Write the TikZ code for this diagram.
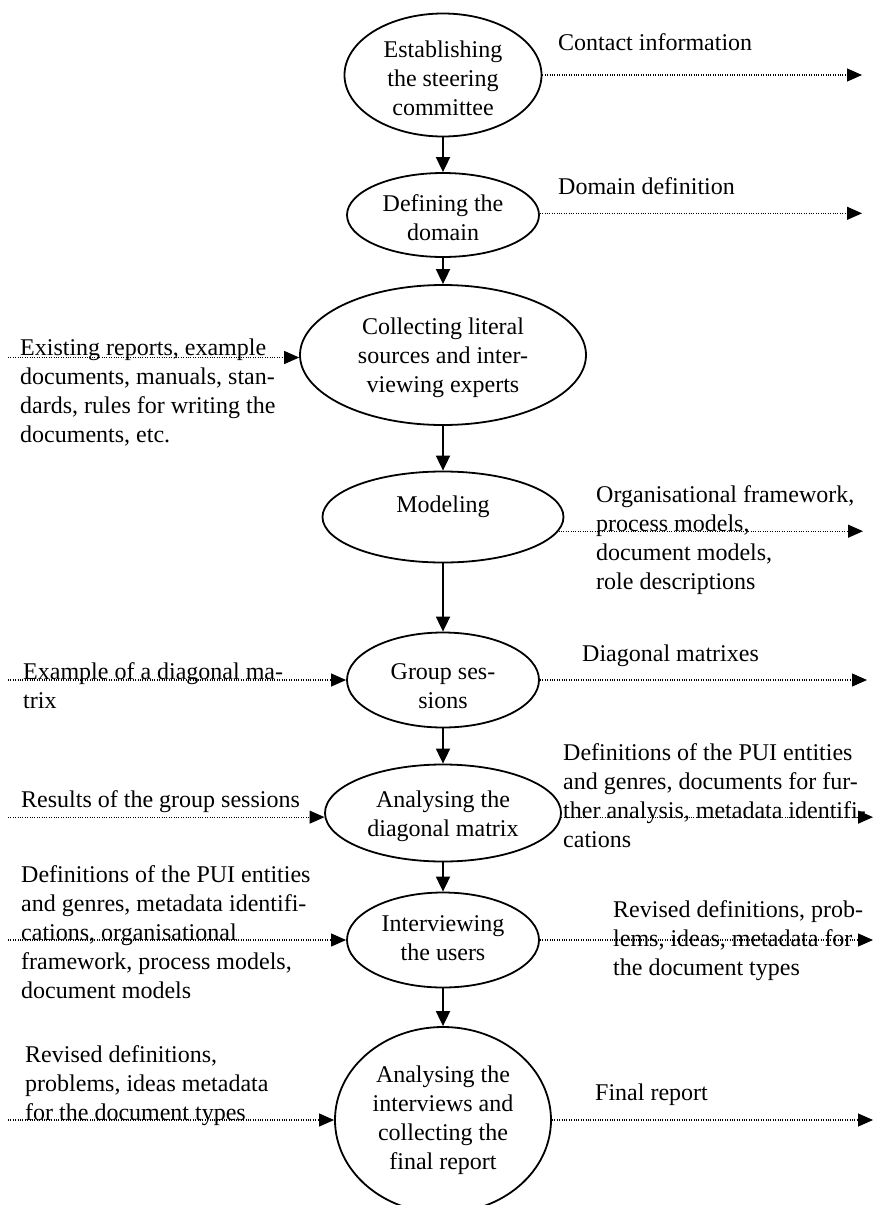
\documentclass[tikz,border=0pt]{standalone}
\usepackage{fontspec}
\setmainfont{Liberation Serif}
\usetikzlibrary{arrows.meta,shapes.geometric}
\begin{document}
\begin{tikzpicture}[x=1pt,y=-1pt,
  stage/.style={draw, ellipse, line width=1.8pt, inner sep=0pt},
  intext/.style={font=\fontsize{24}{29}\selectfont, inner sep=0pt, align=center, anchor=north},
  sidetext/.style={font=\fontsize{24}{29}\selectfont, inner sep=0pt, align=left, anchor=north west},
  nextstep/.style={-{Triangle[length=15pt,width=14pt]}, line width=1.8pt},
  feed/.style={-{Triangle[length=15pt,width=13pt]}, line width=1.1pt, dash pattern=on 1pt off 1.4pt}]
\useasboundingbox (0,0) rectangle (874,1205);

% process stages
\node[stage, minimum width=197pt, minimum height=123pt] (e1) at (443,75) {};
\node[stage, minimum width=192pt, minimum height=84pt]  (e2) at (443,215) {};
\node[stage, minimum width=286pt, minimum height=140pt] (e3) at (443,355) {};
\node[stage, minimum width=241pt, minimum height=91pt]  (e4) at (443,517) {};
\node[stage, minimum width=192pt, minimum height=95pt]  (e5) at (443,680) {};
\node[stage, minimum width=236pt, minimum height=97pt]  (e6) at (443,813) {};
\node[stage, minimum width=192pt, minimum height=95pt]  (e7) at (443,940) {};
\node[stage, minimum width=216pt, minimum height=186pt] (e8) at (443,1120) {};

% stage titles
\node[intext] (t1) at (443,40.6)  {Establishing\\the steering\\committee};
\node[intext] (t2) at (443,194.6) {Defining the\\domain};
\node[intext] (t3) at (443,317.6) {Collecting literal\\sources and inter-\\viewing experts};
\node[intext] (t4) at (443,495.6) {Modeling};
\node[intext] (t5) at (443,663.6) {Group ses-\\sions};
\node[intext] (t6) at (443,790.6) {Analysing the\\diagonal matrix};
\node[intext] (t7) at (443,915.6) {Interviewing\\the users};
\node[intext] (t8) at (443,1065.6) {Analysing the\\interviews and\\collecting the\\final report};

% inputs and outputs
\node[sidetext] (l1)  at (558,33.6)  {Contact information};
\node[sidetext] (l2)  at (558,177.6) {Domain definition};
\node[sidetext] (l3)  at (20,338.6)  {Existing reports, example\\documents, manuals, stan-\\dards, rules for writing the\\documents, etc.};
\node[sidetext] (l4)  at (596,485.6) {Organisational framework,\\process models,\\document models,\\role descriptions};
\node[sidetext] (l5a) at (23,662.6)  {Example of a diagonal ma-\\trix};
\node[sidetext] (l5b) at (582,644.6) {Diagonal matrixes};
\node[sidetext] (l6a) at (21,790.6)  {Results of the group sessions};
\node[sidetext] (l6b) at (563,743.6) {Definitions of the PUI entities\\and genres, documents for fur-\\ther analysis, metadata identifi-\\cations};
\node[sidetext] (l7a) at (21,865.6)  {Definitions of the PUI entities\\and genres, metadata identifi-\\cations, organisational\\framework, process models,\\document models};
\node[sidetext] (l7b) at (613,900.6) {Revised definitions, prob-\\lems, ideas, metadata for\\the document types};
\node[sidetext] (l8a) at (25,1045.6) {Revised definitions,\\problems, ideas metadata\\for the document types};
\node[sidetext] (l8b) at (595,1083.6) {Final report};

% main sequence
\draw[nextstep] (e1.south) -- (e2.north);
\draw[nextstep] (e2.south) -- (e3.north);
\draw[nextstep] (e3.south) -- (e4.north);
\draw[nextstep] (e4.south) -- (e5.north);
\draw[nextstep] (e5.south) -- (e6.north);
\draw[nextstep] (e6.south) -- (e7.north);
\draw[nextstep] (e7.south) -- (e8.north);

% ends of the dotted feeds
\coordinate (o1) at (862,0);
\coordinate (o2) at (862,0);
\coordinate (i3) at (8,0);
\coordinate (o4) at (863,0);
\coordinate (i5) at (8,0);
\coordinate (o5) at (867,0);
\coordinate (i6) at (8,0);
\coordinate (o6) at (873,0);
\coordinate (i7) at (8,0);
\coordinate (o7) at (873,0);
\coordinate (i8) at (8,0);
\coordinate (o8) at (873,0);

\draw[feed] (e1.-0.6) -- (e1.-0.6 -| o1);
\draw[feed] (e2.1.2) -- (e2.1.2 -| o2);
\draw[feed] (e3.181.2 -| i3) -- (e3.181.2);
\draw[feed] (e4.-7.5) -- (e4.-7.5 -| o4);
\draw[feed] (e5.west -| i5) -- (e5.west);
\draw[feed] (e5.east) -- (e5.east -| o5);
\draw[feed] (e6.182.2 -| i6) -- (e6.182.2);
\draw[feed] (e6.-2.4) -- (e6.-2.4 -| o6);
\draw[feed] (e7.west -| i7) -- (e7.west);
\draw[feed] (e7.east) -- (e7.east -| o7);
\draw[feed] (e8.west -| i8) -- (e8.west);
\draw[feed] (e8.east) -- (e8.east -| o8);
\end{tikzpicture}
\end{document}
